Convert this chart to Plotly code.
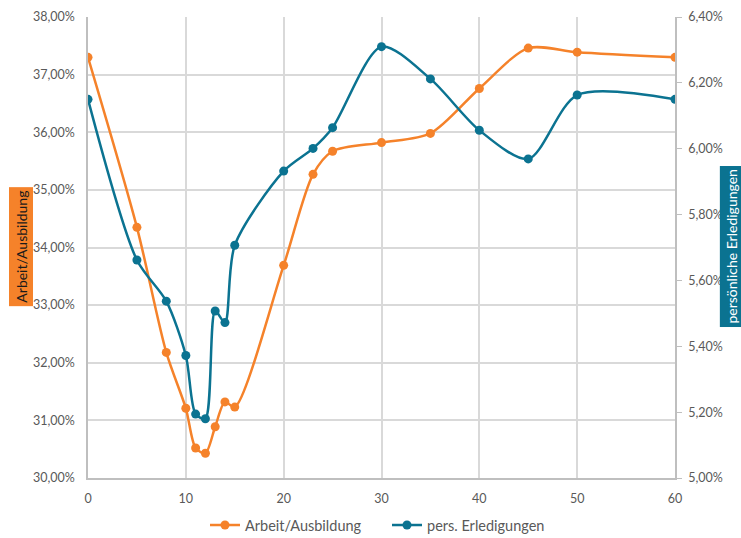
import plotly.graph_objects as go

# Minutes (x) and shares per activity
minutes = [0, 5, 8, 10, 11, 12, 13, 14, 15, 20, 23, 25, 30, 35, 40, 45, 50, 60]
arbeit = [37.30, 34.35, 32.18, 31.21, 30.52, 30.43, 30.89, 31.32, 31.23, 33.69,
          35.27, 35.67, 35.82, 35.98, 36.76, 37.46, 37.39, 37.30]
erledigungen = [6.15, 5.662, 5.537, 5.372, 5.194, 5.18, 5.507, 5.472, 5.707, 5.932,
                6.001, 6.064, 6.31, 6.212, 6.056, 5.969, 6.163, 6.15]

name_a = "Arbeit/Ausbildung"
name_b = "pers. Erledigungen"
title_a = "Arbeit/Ausbildung"
title_b = "persönliche Erledigungen"

orange = "#F5822A"
blue = "#0B7391"
grey = "#595959"
grid = "#D9D9D9"

fig = go.Figure()
fig.add_trace(go.Scatter(
    x=minutes, y=[v / 100 for v in arbeit], name=name_a,
    mode="lines+markers", line=dict(color=orange, width=2.5, shape="spline", smoothing=0.8),
    marker=dict(color=orange, size=9), yaxis="y"))
fig.add_trace(go.Scatter(
    x=minutes, y=[v / 100 for v in erledigungen], name=name_b,
    mode="lines+markers", line=dict(color=blue, width=2.5, shape="spline", smoothing=0.8),
    marker=dict(color=blue, size=9), yaxis="y2"))

font = "Lato, 'Open Sans', sans-serif"
fig.update_layout(
    width=741, height=538,
    margin=dict(l=88, r=66, t=17, b=60, autoexpand=False),
    paper_bgcolor="white", plot_bgcolor="white",
    separators=",.",
    font=dict(family=font, size=12, color=grey),
    showlegend=True,
    legend=dict(orientation="h", x=205 / 741, xanchor="left", xref="container",
                y=0.024, yanchor="middle", yref="container", entrywidth=137,
                font=dict(size=14.5, color=grey), itemwidth=30, tracegroupgap=0),
    xaxis=dict(range=[0, 60], tickvals=[0, 10, 20, 30, 40, 50, 60],
               showgrid=True, gridcolor=grid, gridwidth=1.5,
               showline=True, linecolor="#BFBFBF", linewidth=1.5,
               zeroline=False, ticks="", ticklabelstandoff=8, automargin=False,
               tickfont=dict(size=12.5, color=grey)),
    yaxis=dict(range=[0.30, 0.38], dtick=0.01, tickformat=".2%",
               showgrid=True, gridcolor=grid, gridwidth=1.5,
               showline=True, linecolor="#BFBFBF", linewidth=1.5,
               zeroline=False, ticks="", ticklabelstandoff=9, automargin=False,
               tickfont=dict(size=12.5, color=grey)),
    yaxis2=dict(range=[0.05, 0.064], dtick=0.002, tickformat=".2%", overlaying="y",
                side="right", showgrid=False, showline=True, linecolor="#BFBFBF",
                linewidth=1.5, zeroline=False, ticks="outside", ticklen=5,
                tickcolor="#BFBFBF", ticklabelstandoff=4, automargin=False,
                tickfont=dict(size=12.5, color=grey)),
)

fig.add_annotation(
    xref="paper", yref="paper", x=-0.114, y=0.502, xanchor="center", yanchor="middle",
    text=title_a, textangle=-90, showarrow=False, bgcolor=orange,
    font=dict(family=font, size=14, color="#1a1a1a"), borderpad=3)
fig.add_annotation(
    xref="paper", yref="paper", x=1.097, y=0.502, xanchor="center", yanchor="middle",
    text=title_b, textangle=-90, showarrow=False, bgcolor=blue,
    font=dict(family=font, size=14, color="white"), borderpad=3)

fig.write_html("out.html")
